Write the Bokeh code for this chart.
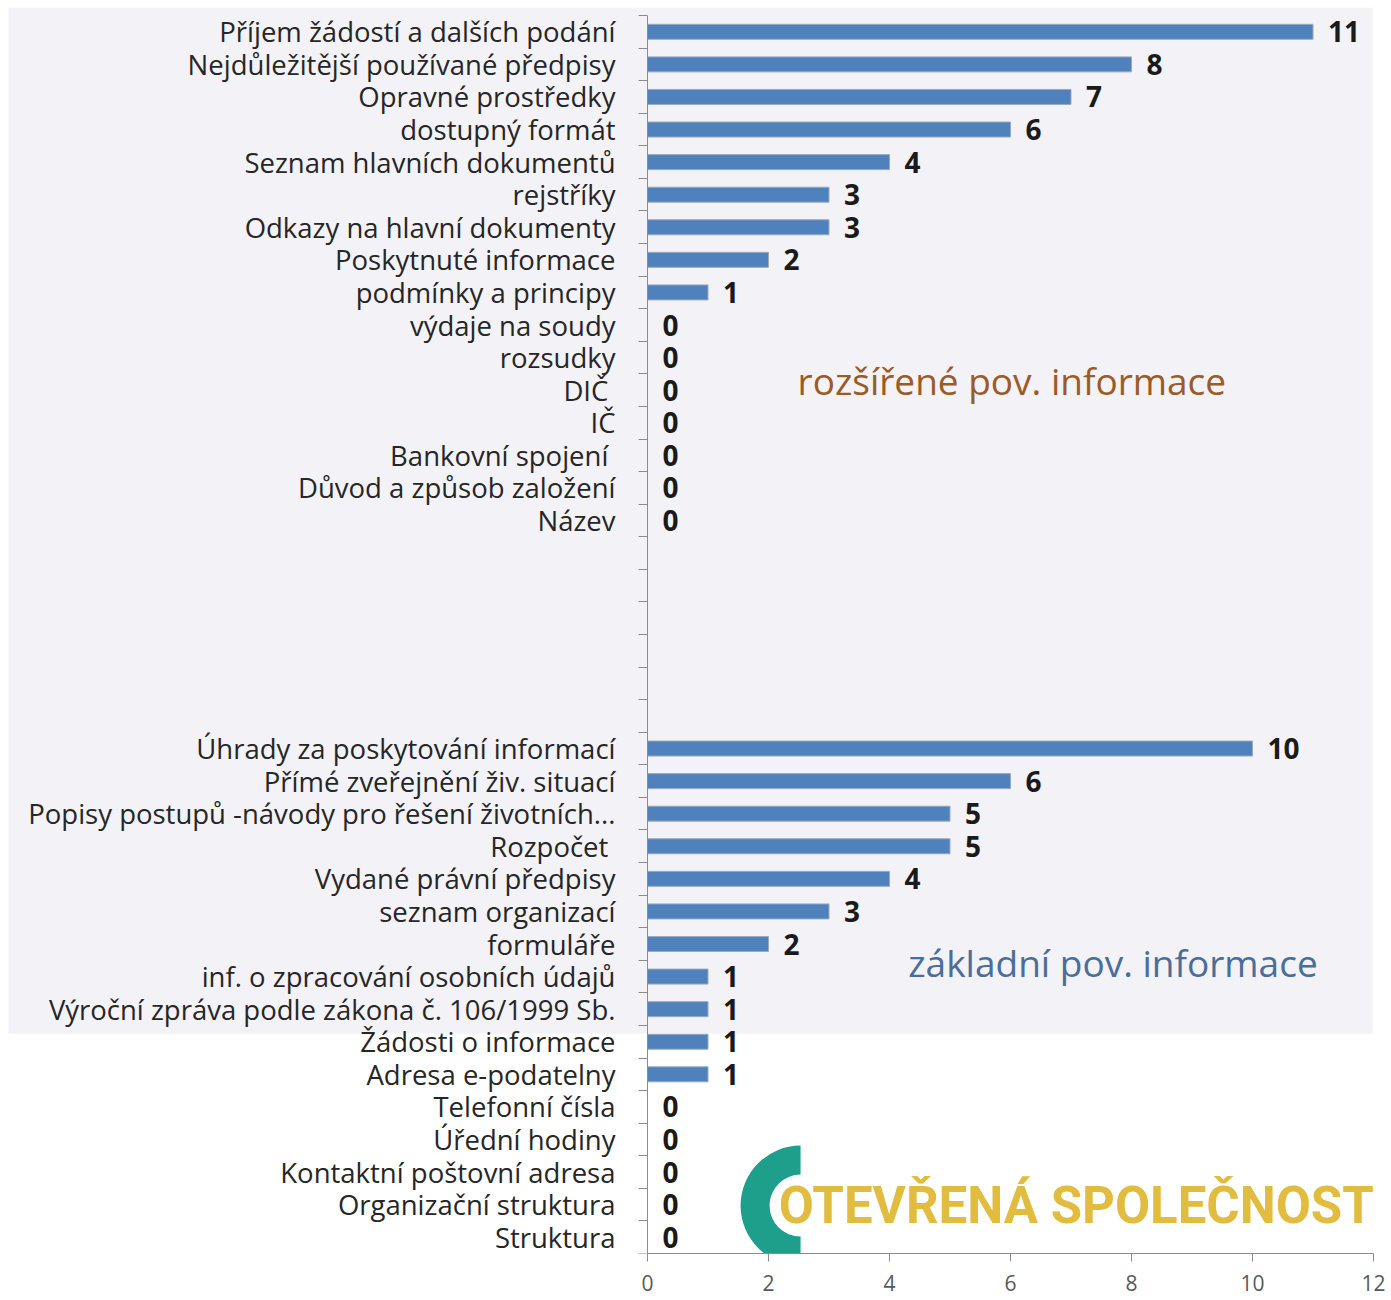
from math import pi
from bokeh.plotting import figure
from bokeh.models import (Range1d, FixedTicker, BoxAnnotation, ColumnDataSource,
                          Label, LinearAxis)
from bokeh.core.properties import value
from bokeh.embed import file_html
from bokeh.resources import INLINE

# ---------------- data ----------------
categories_extended = [
    "Příjem žádostí a dalších podání",
    "Nejdůležitější používané předpisy",
    "Opravné prostředky",
    "dostupný formát",
    "Seznam hlavních dokumentů",
    "rejstříky",
    "Odkazy na hlavní dokumenty",
    "Poskytnuté informace",
    "podmínky a principy",
    "výdaje na soudy",
    "rozsudky",
    "DIČ ",
    "IČ",
    "Bankovní spojení ",
    "Důvod a způsob založení",
    "Název",
]
values_extended = [11, 8, 7, 6, 4, 3, 3, 2, 1, 0, 0, 0, 0, 0, 0, 0]

blank_slots = 6

categories_basic = [
    "Úhrady za poskytování informací",
    "Přímé zveřejnění živ. situací",
    "Popisy postupů -návody pro řešení životních...",
    "Rozpočet ",
    "Vydané právní předpisy",
    "seznam organizací",
    "formuláře",
    "inf. o zpracování osobních údajů",
    "Výroční zpráva podle zákona č. 106/1999 Sb.",
    "Žádosti o informace",
    "Adresa e-podatelny",
    "Telefonní čísla",
    "Úřední hodiny",
    "Kontaktní poštovní adresa",
    "Organizační struktura",
    "Struktura",
]
values_basic = [10, 6, 5, 5, 4, 3, 2, 1, 1, 1, 1, 0, 0, 0, 0, 0]

x_ticks = [0, 2, 4, 6, 8, 10, 12]
group_titles = ["rozšířené pov. informace", "základní pov. informace"]
logo_text = "OTEVŘENÁ SPOLEČNOST"

# ---------------- slots ----------------
labels = categories_extended + [""] * blank_slots + categories_basic
vals = values_extended + [None] * blank_slots + values_basic
n_slots = len(labels)
pos = [i + 1 for i in range(n_slots)]

bar_y = [p_ for p_, v in zip(pos, vals) if v is not None]
bar_v = [v for v in vals if v is not None]
src = ColumnDataSource(dict(y=bar_y, v=bar_v, t=[str(v) for v in bar_v]))

FONT = "Open Sans"

# frame geometry (pixels): axis zero at 647, 60.5 px per unit, 32.58 px per slot
PX_X = 60.5
PX_Y = 1238 / n_slots
FRAME_W = 1385
FRAME_TOP_PAD = 8

p = figure(
    width=FRAME_W + 5, height=7 + 1246 + 46,
    x_range=Range1d(-647 / PX_X, (FRAME_W - 647) / PX_X),
    y_range=Range1d(n_slots + 0.5, 0.5 - FRAME_TOP_PAD / PX_Y),
    y_axis_location=None,
    output_backend="svg", toolbar_location=None,
    min_border_left=0, min_border_right=5, min_border_top=7, min_border_bottom=46,
)
p.outline_line_color = None
p.xgrid.visible = False
p.ygrid.visible = False
p.background_fill_color = "white"
p.border_fill_color = "white"

# grey panel behind the upper part
p.add_layout(BoxAnnotation(
    left=8, right=1372, top=7, bottom=1033,
    left_units="canvas", right_units="canvas", top_units="canvas", bottom_units="canvas",
    fill_color="#f2f2f7", fill_alpha=1.0, line_color=None, level="underlay",
))

p.hbar(y="y", right="v", left=0, height=0.46, source=src,
       fill_color="#4f81bd", line_color="#9aa9bd", line_width=1)

p.text(x="v", y="y", text="t", source=src, x_offset=15,
       text_font=value(FONT), text_font_style="bold", text_font_size="28px",
       text_color="#1a1a1a", text_baseline="middle", text_align="left")

# y axis placed at x = 0 inside the frame
ya = LinearAxis(fixed_location=0, bounds=(0.5, n_slots + 0.5))
ya.ticker = FixedTicker(ticks=[p_ for p_, l in zip(pos, labels) if l],
                        minor_ticks=[i + 0.5 for i in range(n_slots + 1)])
ya.major_label_overrides = {p_: l for p_, l in zip(pos, labels) if l}
ya.major_tick_out = 0
ya.major_tick_in = 0
ya.minor_tick_out = 9
ya.minor_tick_in = 0
ya.axis_line_color = "#8c8c8c"
ya.minor_tick_line_color = "#8c8c8c"
ya.major_label_standoff = 23
ya.major_label_text_font = FONT
ya.major_label_text_font_size = "27.5px"
ya.major_label_text_color = "#262626"
p.add_layout(ya, "left")

# x axis
xa = p.xaxis[0]
xa.ticker = FixedTicker(ticks=x_ticks)
xa.bounds = (x_ticks[0], x_ticks[-1])
xa.minor_tick_line_color = None
xa.major_tick_out = 8
xa.major_tick_in = 0
xa.axis_line_color = "#8c8c8c"
xa.major_tick_line_color = "#8c8c8c"
xa.major_label_standoff = 13
xa.major_label_text_font = FONT
xa.major_label_text_font_size = "21px"
xa.major_label_text_color = "#595959"

# group titles
p.add_layout(Label(x=2.48, y=11.7, text=group_titles[0], text_font=FONT,
                   text_font_size="37px", text_color="#9c5b26",
                   text_baseline="middle", text_align="left"))
p.add_layout(Label(x=4.31, y=29.57, text=group_titles[1], text_font=FONT,
                   text_font_size="37px", text_color="#4a6d9a",
                   text_baseline="middle", text_align="left"))

# logo
p.annular_wedge(x=2.53, y=37.03, inner_radius=31, outer_radius=60,
                inner_radius_units="screen", outer_radius_units="screen",
                start_angle=pi / 2, end_angle=3 * pi / 2,
                fill_color="#1e9f8b", line_color=None)
p.add_layout(Label(x=2.17, y=37.03, text=logo_text, text_font="Roboto",
                   text_font_style="bold", text_font_size="51px",
                   text_color="#e1bc3f", text_baseline="middle", text_align="left"))

open("out.html", "w").write(file_html(p, INLINE))
